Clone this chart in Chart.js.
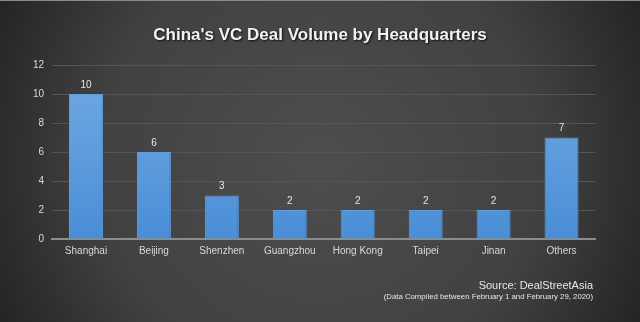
<!DOCTYPE html>
<html>
<head>
<meta charset="utf-8">
<script src="https://cdn.jsdelivr.net/npm/chart.js@4.4.1/dist/chart.umd.min.js"></script>
<style>
  html, body { margin: 0; padding: 0; background: #2a2a2a; }
  #wrap { width: 640px; height: 322px; position: relative; }
</style>
</head>
<body>
<div id="wrap"><canvas id="grafico_sedes"></canvas></div>
<script>
const ciudades = ['Shanghai', 'Beijing', 'Shenzhen', 'Guangzhou', 'Hong Kong', 'Taipei', 'Jinan', 'Others']
const acuerdos = [10, 6, 3, 2, 2, 2, 2, 7]
const ticksY = [0, 2, 4, 6, 8, 10, 12]

const titulo = "China's VC Deal Volume by Headquarters"
const fuente = 'Source: DealStreetAsia'
const nota = '(Data Compiled between February 1 and February 29, 2020)'

const letra = "'Liberation Sans', Helvetica, Arial, sans-serif"

// fondo gris con degradado radial + titulo + pie
const fondo = {
    id: 'fondo',
    beforeDraw(chart) {
        const ctx = chart.ctx
        const w = chart.width, h = chart.height
        ctx.save()
        const g = ctx.createRadialGradient(w / 2, h * 0.5, 10, w / 2, h * 0.5, w * 0.62)
        g.addColorStop(0, '#4d4d4d')
        g.addColorStop(0.55, '#414141')
        g.addColorStop(1, '#1c1c1c')
        ctx.fillStyle = g
        ctx.fillRect(0, 0, w, h)
        ctx.fillStyle = '#8a8a8a'
        ctx.fillRect(0, 0, w, 1)
        ctx.restore()
    },
    afterDraw(chart) {
        const ctx = chart.ctx
        ctx.save()
        ctx.font = 'bold 17px ' + letra
        ctx.textAlign = 'center'
        ctx.textBaseline = 'middle'
        ctx.shadowColor = 'rgba(0,0,0,0.8)'
        ctx.shadowOffsetX = 1
        ctx.shadowOffsetY = 1
        ctx.shadowBlur = 2
        ctx.fillStyle = '#f2f2f2'
        ctx.fillText(titulo, 320, 35)
        ctx.shadowColor = 'transparent'

        ctx.textAlign = 'right'
        ctx.fillStyle = '#e6e6e6'
        ctx.font = '11px ' + letra
        ctx.fillText(fuente, 593, 286)
        ctx.font = '7.8px ' + letra
        ctx.fillText(nota, 593, 297)
        ctx.restore()
    }
}

// valores encima de cada barra
const etiquetas = {
    id: 'etiquetas',
    afterDatasetsDraw(chart) {
        const ctx = chart.ctx
        const meta = chart.getDatasetMeta(0)
        ctx.save()
        ctx.font = '10px ' + letra
        ctx.fillStyle = '#e6e6e6'
        ctx.textAlign = 'center'
        ctx.textBaseline = 'bottom'
        meta.data.forEach((bar, i) => {
            ctx.fillText(acuerdos[i], bar.x, bar.y - 4)
        })
        ctx.restore()
    }
}

function colorBarra(context) {
    const area = context.chart.chartArea
    if (!area) return '#5b9be0'
    const g = context.chart.ctx.createLinearGradient(0, area.top, 0, area.bottom)
    g.addColorStop(0, '#72aae3')
    g.addColorStop(1, '#4a8ed6')
    return g
}

const ctx = document.getElementById('grafico_sedes').getContext('2d')

const data = {
    labels: ciudades,
    datasets: [{
        label: 'Deals',
        data: acuerdos,
        backgroundColor: colorBarra,
        borderColor: '#5d9ddf',
        borderWidth: 1,
        barPercentage: 0.5,
        categoryPercentage: 1
    }]
}

const options = {
    responsive: true,
    maintainAspectRatio: false,
    animation: false,
    layout: { padding: { top: 65, right: 44.5, left: 0, bottom: 0 } },
    scales: {
        x: {
            grid: { display: false, drawTicks: false },
            border: { display: true, color: '#8c8c8c', width: 2 },
            ticks: { color: '#d8d8d8', font: { size: 10, family: letra }, padding: 6, maxRotation: 0 },
            afterFit(scale) { scale.height = 83 }
        },
        y: {
            min: 0,
            max: 12,
            afterBuildTicks(scale) { scale.ticks = ticksY.map(v => ({ value: v })) },
            grid: { color: '#555555', lineWidth: 1, drawTicks: false },
            border: { display: false },
            ticks: { color: '#d8d8d8', font: { size: 10, family: letra }, padding: 8 },
            afterFit(scale) { scale.width = 52 }
        }
    },
    plugins: {
        legend: { display: false },
        tooltip: { enabled: false },
        title: { display: false }
    }
}

new Chart(ctx, { type: 'bar', data, options, plugins: [fondo, etiquetas] })
</script>
</body>
</html>
